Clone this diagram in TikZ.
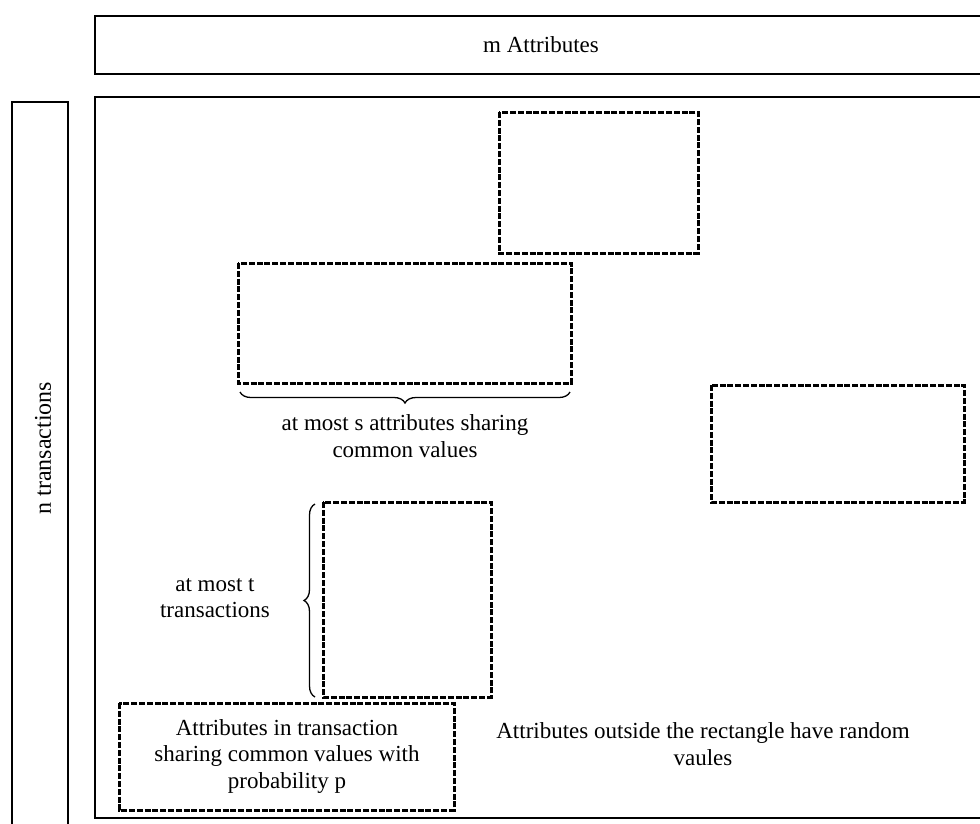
\documentclass[tikz,border=0pt]{standalone}
\usepackage{fontspec}
\setmainfont{Liberation Serif}
\usetikzlibrary{decorations.pathreplacing}
\begin{document}
\begin{tikzpicture}[x=1pt,y=-1pt,
  frame/.style={draw=black,line width=2.2pt},
  region/.style={draw=black,line width=3pt,dash pattern=on 6pt off 1.8pt},
  lbl/.style={font=\fontsize{23}{26.5}\selectfont,align=center,inner sep=0pt},
  brc/.style={draw=black,line width=1.3pt,decorate,decoration={brace,amplitude=11pt}}]
  \clip (0,0) rectangle (980,823);
  \fill[white] (0,0) rectangle (980,823);
  % outer frames
  \draw[frame] (95,16) rectangle (1000,74);
  \node[lbl] (attrs) at (541,45) {m Attributes};
  \draw[frame] (12,102) rectangle (68,840);
  \node[lbl,font=\fontsize{24}{28}\selectfont,rotate=90] (trans) at (43,448) {n transactions};
  \draw[frame] (95,97) rectangle (1000,818);
  % dashed regions
  \draw[region] (499,112) rectangle (698,253);
  \draw[region] (238,263) rectangle (571,383);
  \draw[region] (711,385) rectangle (964,502);
  \draw[region] (323,502) rectangle (491,697);
  \draw[region] (119,703) rectangle (454,810);
  % braces
  \coordinate (sa) at (570,392);
  \coordinate (sb) at (240,392);
  \draw[brc] (sa) -- (sb);
  \node[lbl] (stext) at (405,436) {at most s attributes sharing\\common values};
  \coordinate (ta) at (315,697);
  \coordinate (tb) at (315,504);
  \draw[brc] (ta) -- (tb);
  \node[lbl] (ttext) at (215,598) {at most t\\transactions};
  % texts
  \node[lbl] (ptext) at (287,756) {Attributes in transaction\\sharing common values with\\probability p};
  \node[lbl] (otext) at (703,744) {Attributes outside the rectangle have random\\vaules};
\end{tikzpicture}
\end{document}
